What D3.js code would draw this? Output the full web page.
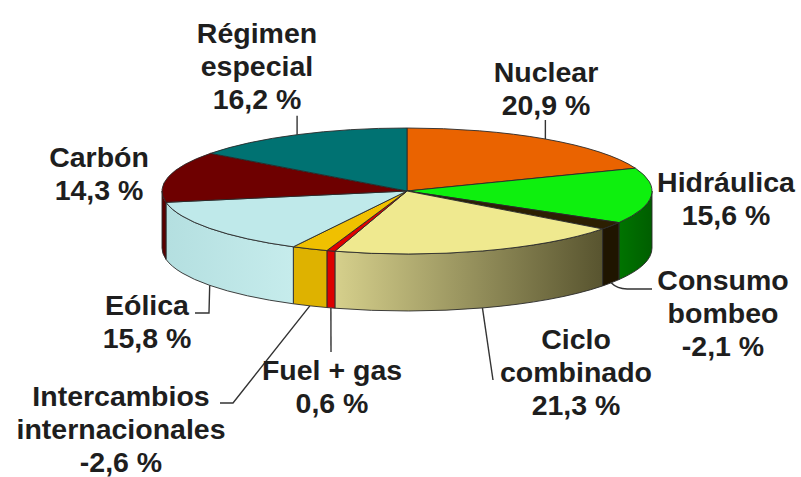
<!DOCTYPE html>
<html>
<head>
<meta charset="utf-8">
<script src="https://cdn.jsdelivr.net/npm/d3@7"></script>
<style>
  body { margin: 0; background: #fff; }
  svg text { font-family: "Liberation Sans", Arial, sans-serif; font-weight: bold; fill: #1e1e1e; }
</style>
</head>
<body>
<svg id="chart" width="801" height="477"></svg>
<script>
// Datos: balance de generación (%)
var categories = ['Nuclear', 'Hidráulica', 'Consumo bombeo', 'Ciclo combinado', 'Fuel + gas',
  'Intercambios internacionales', 'Eólica', 'Carbón', 'Régimen especial']
var values = [20.9, 15.6, -2.1, 21.3, 0.6, -2.6, 15.8, 14.3, 16.2]
var labelLines = [
  ['Nuclear'], ['Hidráulica'], ['Consumo', 'bombeo'], ['Ciclo', 'combinado'], ['Fuel + gas'],
  ['Intercambios', 'internacionales'], ['Eólica'], ['Carbón'], ['Régimen', 'especial']
]

// Colores: cara superior, lateral (inicio, fin del degradado)
var topColors = ['#ea6300', '#0ef00e', '#2c1f02', '#efe98f', '#e00000', '#f0c000', '#bfe9ea', '#6e0000', '#007272']
var sideColors = [
  ['#b84c00', '#b84c00'], ['#007400', '#005e00'], ['#1f1500', '#1f1500'], ['#d6d08c', '#58542f'],
  ['#dc0000', '#dc0000'], ['#deb200', '#deb200'], ['#b4dfe0', '#c6ecec'], ['#5a0000', '#5a0000'],
  ['#005a5a', '#005a5a']
]

var conf = {
  cx: 407,
  cy: 191,
  rx: 245,
  ry: 63,
  depth: 57,
  fontSize: 28.5,
  lineHeight: 33
}

// Posición de las etiquetas (centro x, primera línea base y) y extremo de la guía
var labelLayout = [
  { x: 546, y: 82, leader: 'up' },
  { x: 726, y: 192, leader: null },
  { x: 723, y: 290, leader: 'curve', end: [652, 289] },
  { x: 576, y: 349, leader: 'down', end: [493, 380] },
  { x: 332, y: 380, leader: 'down', end: [331, 352] },
  { x: 121, y: 406, leader: 'elbow', end: [233, 403], tail: [220, 403] },
  { x: 147, y: 315, leader: 'elbow', end: [209, 313], tail: [195, 313] },
  { x: 99, y: 167, leader: null },
  { x: 257, y: 43, leader: 'up' }
]

var svg = d3.select('#chart')
var defs = svg.append('defs')

var pie = d3.pie()
  .sort(null)
  .value(function (d) { return Math.abs(d) })
  .startAngle(0)
  .endAngle(2 * Math.PI)

var arcs = pie(values)

function pt (a, z) {
  return [conf.cx + conf.rx * Math.sin(a), conf.cy - conf.ry * Math.cos(a) + (z || 0)]
}

function topPath (d) {
  var p0 = pt(d.startAngle)
  var p1 = pt(d.endAngle)
  var large = d.endAngle - d.startAngle > Math.PI ? 1 : 0
  return 'M' + conf.cx + ',' + conf.cy + 'L' + p0 + 'A' + conf.rx + ',' + conf.ry + ' 0 ' + large + ' 1 ' + p1 + 'Z'
}

function sidePath (d) {
  var s = Math.max(d.startAngle, Math.PI / 2)
  var e = Math.min(d.endAngle, 3 * Math.PI / 2)
  if (e <= s) return null
  var a = pt(s)
  var b = pt(e)
  var bb = pt(e, conf.depth)
  var ab = pt(s, conf.depth)
  return 'M' + a + 'A' + conf.rx + ',' + conf.ry + ' 0 0 1 ' + b +
    'L' + bb + 'A' + conf.rx + ',' + conf.ry + ' 0 0 0 ' + ab + 'Z'
}

// Degradados laterales
arcs.forEach(function (d, i) {
  var g = defs.append('linearGradient')
    .attr('id', 'side' + i)
    .attr('x1', 0).attr('x2', 1).attr('y1', 0).attr('y2', 0)
  g.append('stop').attr('offset', '0%').attr('stop-color', sideColors[i][0])
  g.append('stop').attr('offset', '100%').attr('stop-color', sideColors[i][1])
})

// Laterales
svg.append('g').attr('class', 'sides')
  .selectAll('path')
  .data(arcs.filter(function (d) { return sidePath(d) }))
  .enter()
    .append('path')
    .attr('d', sidePath)
    .attr('fill', function (d) { return 'url(#side' + d.index + ')' })
    .attr('stroke', '#2a2a2a')
    .attr('stroke-width', 0.9)
    .attr('stroke-linejoin', 'round')

// Caras superiores
svg.append('g').attr('class', 'tops')
  .selectAll('path')
  .data(arcs)
  .enter()
    .append('path')
    .attr('d', topPath)
    .attr('fill', function (d, i) { return topColors[i] })
    .attr('stroke', '#2a2a2a')
    .attr('stroke-width', 0.9)
    .attr('stroke-linejoin', 'round')

// Guías
var leaders = svg.append('g').attr('class', 'leaders')
  .attr('fill', 'none')
  .attr('stroke', '#333')
  .attr('stroke-width', 1.4)

arcs.forEach(function (d, i) {
  var lay = labelLayout[i]
  if (!lay.leader) return
  var mid = (d.startAngle + d.endAngle) / 2
  var path
  if (lay.leader === 'up') {
    var p = pt(mid)
    path = 'M' + p + 'L' + p[0] + ',' + (p[1] - 19)
  } else {
    var q = pt(mid, conf.depth)
    if (lay.leader === 'curve') {
      path = 'M' + q + 'Q' + (q[0] + 6) + ',' + lay.end[1] + ' ' + (q[0] + 16) + ',' + lay.end[1] + 'L' + lay.end
    } else if (lay.leader === 'elbow') {
      path = 'M' + q + 'L' + lay.end + 'L' + lay.tail
    } else {
      path = 'M' + q + 'L' + lay.end
    }
  }
  leaders.append('path').attr('d', path)
})

// Etiquetas (formato español, signo menos con guion)
var locale = d3.formatLocale({ decimal: ',', thousands: '.', grouping: [3], currency: ['', ''], minus: '-' })
var fmt = function (v) { return locale.format('.1f')(v) + ' %' }

var labels = svg.append('g').attr('class', 'labels')
  .selectAll('text')
  .data(arcs)
  .enter()
    .append('text')
    .attr('text-anchor', 'middle')
    .attr('font-size', conf.fontSize)
    .attr('transform', function (d, i) {
      return 'translate(' + labelLayout[i].x + ',' + labelLayout[i].y + ')'
    })

labels.each(function (d, i) {
  var t = d3.select(this)
  labelLines[i].concat([fmt(values[i])]).forEach(function (line, j) {
    t.append('tspan')
      .attr('x', 0)
      .attr('y', j * conf.lineHeight)
      .text(line)
  })
})
</script>
</body>
</html>
